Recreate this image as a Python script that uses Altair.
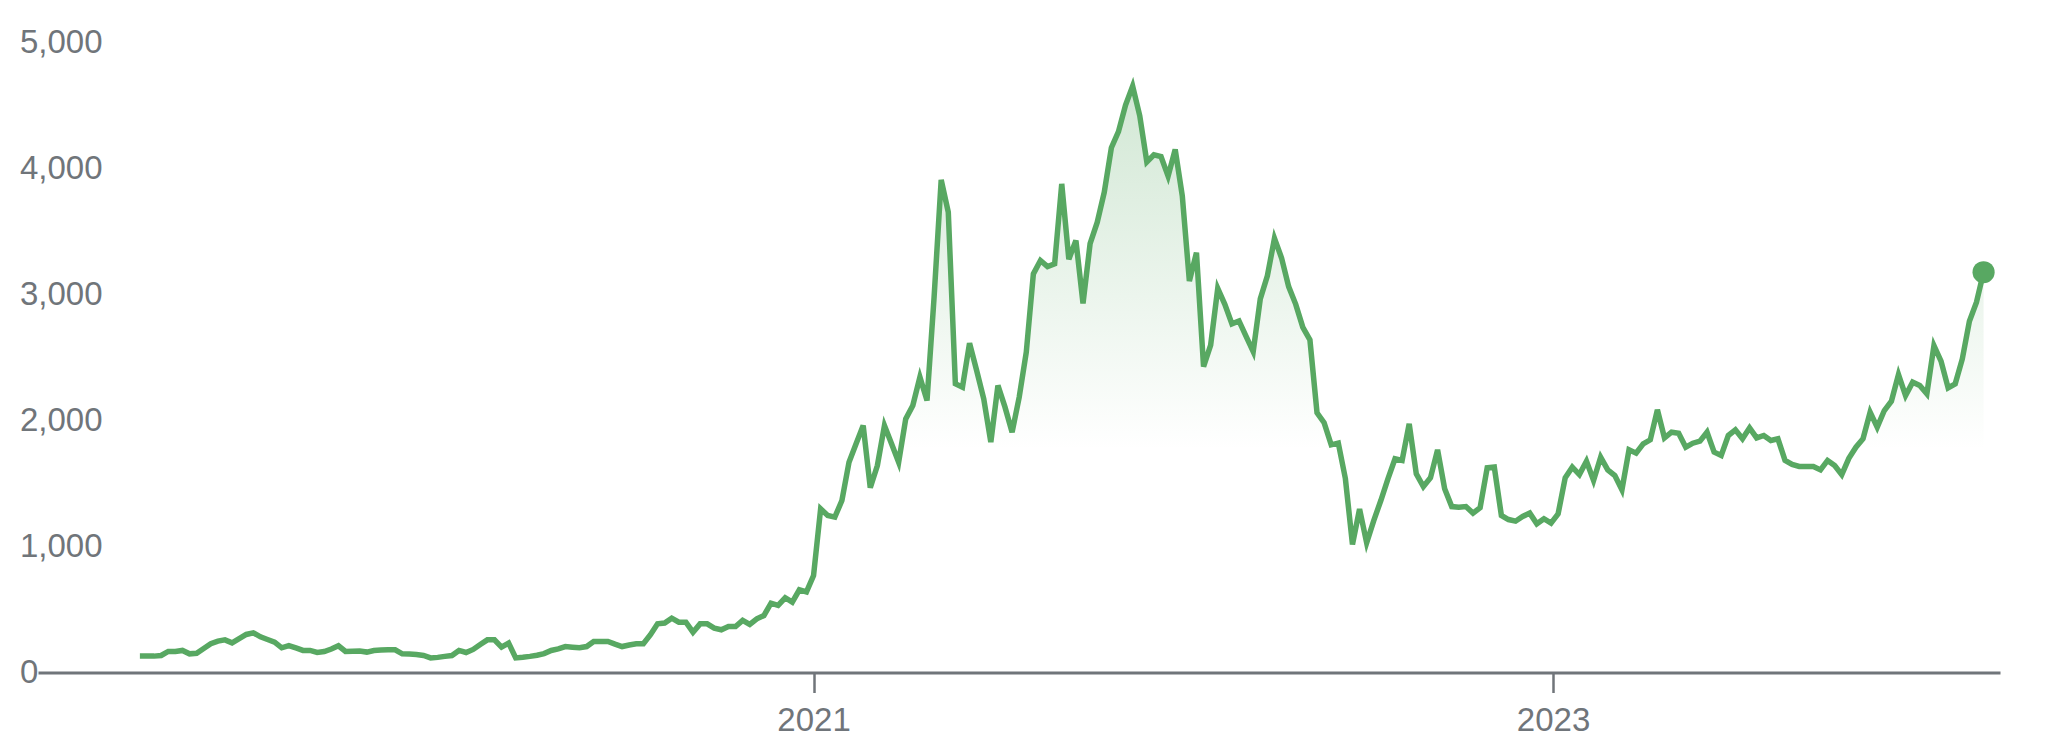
import altair as alt
import pandas as pd

# ---- data (weekly closes) ----
START = "2019-03-08"
PRICES = [
    130, 130, 130, 135, 167, 167, 175, 148, 153, 190,
    228, 249, 259, 235, 268, 302, 315, 283, 262, 241,
    196, 214, 195, 175, 175, 159, 166, 186, 212, 167,
    168, 170, 162, 175, 178, 180, 180, 148, 146, 143,
    135, 116, 120, 128, 135, 175, 159, 183, 222, 259,
    259, 201, 233, 116, 121, 128, 137, 150, 175, 188,
    206, 201, 196, 206, 246, 246, 246, 225, 206, 218,
    228, 228, 300, 386, 392, 431, 399, 399, 320, 386,
    386, 352, 339, 365, 365, 413, 381, 426, 452, 550,
    532, 593, 558, 656, 640, 770, 1299, 1246, 1233, 1365,
    1669, 1815, 1960, 1466, 1643, 1960, 1815, 1669, 2013, 2119,
    2344, 2159, 2979, 3910, 3653, 2291, 2264, 2614, 2397, 2172,
    1828, 2278, 2106, 1907, 2185, 2542, 3164, 3270, 3222, 3243,
    3878, 3280, 3429, 2930, 3403, 3572, 3812, 4165, 4292, 4504,
    4654, 4419, 4052, 4109, 4094, 3939, 4151, 3784, 3106, 3332,
    2428, 2598, 3049, 2922, 2767, 2790, 2668, 2547, 2965, 3148,
    3445, 3290, 3063, 2922, 2739, 2640, 2061, 1982, 1807, 1821,
    1539, 1016, 1298, 1030, 1206, 1365, 1537, 1696, 1683, 1974,
    1577, 1476, 1545, 1767, 1458, 1317, 1312, 1317, 1265, 1307,
    1624, 1630, 1246, 1214, 1201, 1238, 1265, 1180, 1220, 1185,
    1259, 1545, 1630, 1571, 1677, 1524, 1709, 1608, 1563, 1450,
    1767, 1741, 1815, 1847, 2085, 1862, 1907, 1899, 1788, 1820,
    1836, 1907, 1749, 1722, 1881, 1926, 1855, 1942, 1862, 1881,
    1841, 1855, 1683, 1651, 1635, 1635, 1635, 1608, 1683, 1643,
    1570, 1700, 1788, 1855, 2066, 1947, 2079, 2153, 2365, 2198,
    2304, 2278, 2212, 2595, 2471, 2259, 2291, 2489, 2788, 2939,
    3177,
]
Y_TICKS = [0, 1000, 2000, 3000, 4000, 5000]
Y_TICK_LABELS = ["0", "1,000", "2,000", "3,000", "4,000", "5,000"]
X_TICK_YEARS = [2021, 2023]

GREEN = "#58a862"
GREY = "#70757a"
FONT = "Liberation Sans"

dates = pd.date_range(START, periods=len(PRICES), freq="7D")
df = pd.DataFrame({"date": dates, "price": PRICES})
last = df.tail(1)
ticks = pd.DataFrame({"v": Y_TICKS, "label": Y_TICK_LABELS})

W, H = 1962, 630

xscale = alt.Scale(domain=[alt.DateTime(year=2018, month=11, date=27, hours=10),
                           alt.DateTime(year=2024, month=3, date=17, hours=5)])
yscale = alt.Scale(domain=[0, 5000], nice=False)

x_enc = alt.X("date:T", scale=xscale, title=None,
              axis=alt.Axis(values=[alt.DateTime(year=y, month=1, date=1) for y in X_TICK_YEARS],
                            format="%Y", grid=False, domainColor=GREY, domainWidth=3,
                            tickColor=GREY, tickWidth=2.5, tickSize=20,
                            labelFontSize=33, labelFont=FONT, labelColor=GREY,
                            labelPadding=12))
y_enc = alt.Y("price:Q", scale=yscale, title=None,
              axis=alt.Axis(values=Y_TICKS[1:], grid=True, gridColor="#efefef", gridWidth=2.5,
                            labels=False, ticks=False, domain=False))

base = alt.Chart(df)

area = base.mark_area(
    fill=alt.LinearGradient(
        gradient="linear", x1=0, x2=0, y1=0, y2=1,
        stops=[alt.GradientStop(color="rgba(88,168,98,0.27)", offset=0),
               alt.GradientStop(color="rgba(88,168,98,0.0)", offset=0.62)])
).encode(x=x_enc, y=y_enc)

line = base.mark_line(color=GREEN, strokeWidth=5.5).encode(x=x_enc, y=y_enc)

dot = alt.Chart(last).mark_circle(size=490, color=GREEN, opacity=1).encode(
    x=alt.X("date:T", scale=xscale), y=alt.Y("price:Q", scale=yscale))

halo = alt.Chart(ticks).transform_filter("datum.v > 0").mark_text(
    align="left", baseline="middle", fontSize=33, font=FONT,
    fill="white", stroke="white", strokeWidth=9, strokeJoin="round"
).encode(y=alt.Y("v:Q", scale=yscale, axis=None), x=alt.value(-18), text="label:N")

labels = alt.Chart(ticks).mark_text(
    align="left", baseline="middle", fontSize=33, font=FONT, color=GREY
).encode(y=alt.Y("v:Q", scale=yscale, axis=None), x=alt.value(-18), text="label:N")

chart = alt.layer(area, line, dot, halo, labels).properties(
    width=W, height=H,
    autosize=alt.AutoSizeParams(type="none"),
    padding={"left": 30, "top": 34.5, "right": 40, "bottom": 70},
    background="white",
).configure_view(stroke=None)

chart.save("out.html", embed_options={"renderer": "svg", "actions": False})
